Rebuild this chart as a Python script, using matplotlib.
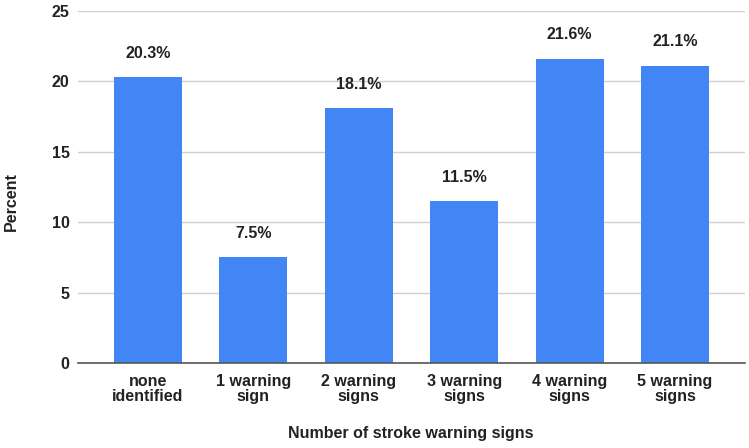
import matplotlib.pyplot as plt
import numpy as np

categories = ['none\nidentified', '1 warning\nsign', '2 warning\nsigns',
              '3 warning\nsigns', '4 warning\nsigns', '5 warning\nsigns']
percent = [20.3, 7.5, 18.1, 11.5, 21.6, 21.1]

plt.rcParams['font.family'] = ['Liberation Sans', 'DejaVu Sans']

fig = plt.figure(figsize=(7.49, 4.48), dpi=100)
ax = fig.add_axes([78 / 749, 85 / 448, 667 / 749, 352 / 448])

x = np.arange(len(categories))
ax.bar(x, percent, width=0.645, color='#4285f4', zorder=3)

for xi, v in zip(x, percent):
    ax.text(xi, v + 1.7, f'{v}%', ha='center', va='center',
            fontsize=11.5, fontweight='bold', color='#222222')

ax.set_xlim(-0.664, 5.664)
ax.set_ylim(0, 25)
ax.set_yticks([0, 5, 10, 15, 20, 25])
ax.set_xticks(x)
ax.set_xticklabels(categories, fontsize=11.5, fontweight='bold', color='#222222',
                   linespacing=0.95)
for lab in ax.get_yticklabels():
    lab.set_fontsize(11.5)
    lab.set_fontweight('bold')
    lab.set_color('#222222')

ax.grid(axis='y', color='#d0d0d0', linewidth=1, zorder=0)
for s in ['top', 'right', 'left']:
    ax.spines[s].set_visible(False)
ax.spines['bottom'].set_color('#555555')
ax.spines['bottom'].set_linewidth(1.2)
ax.spines['bottom'].set_zorder(4)
ax.tick_params(axis='both', length=0)
ax.tick_params(axis='y', pad=6)
ax.tick_params(axis='x', pad=8)

ax.set_ylabel('Percent', fontsize=11.5, fontweight='bold', color='#222222')
ax.yaxis.set_label_coords(11 / 749, 1 - 202 / 448, transform=fig.transFigure)
ax.set_xlabel('Number of stroke warning signs', fontsize=11.5, fontweight='bold',
              color='#222222')
ax.xaxis.set_label_coords(411 / 749, 1 - 433 / 448, transform=fig.transFigure)
ax.xaxis.label.set_va('center')
ax.yaxis.label.set_va('center')

fig.savefig('out.png', dpi=100)
